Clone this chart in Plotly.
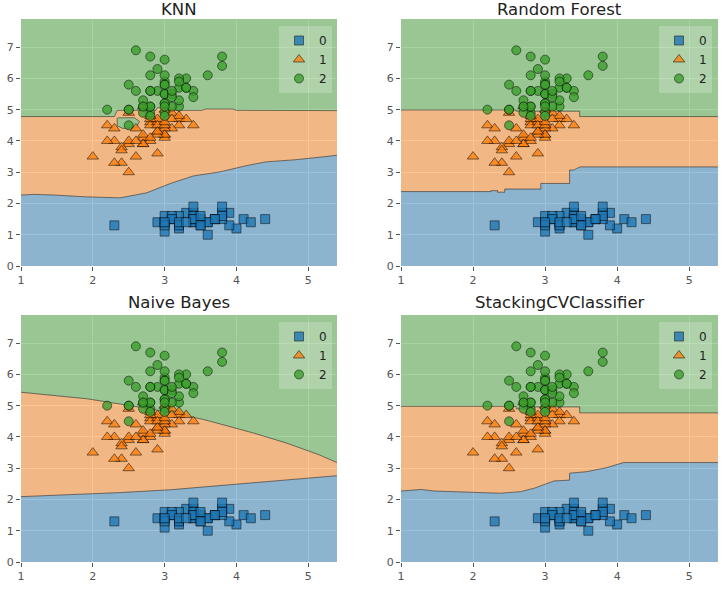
import plotly.graph_objects as go
from plotly.subplots import make_subplots

# ---------------- data: iris (sepal width, petal length) ----------------
C0_X = [3.5,3.0,3.2,3.1,3.6,3.9,3.4,3.4,2.9,3.1,3.7,3.4,3.0,3.0,4.0,4.4,3.9,3.5,3.8,3.8,3.4,3.7,3.6,3.3,3.4,
        3.0,3.4,3.5,3.4,3.2,3.1,3.4,4.1,4.2,3.1,3.2,3.5,3.6,3.0,3.4,3.5,2.3,3.2,3.5,3.8,3.0,3.8,3.2,3.7,3.3]
C0_Y = [1.4,1.4,1.3,1.5,1.4,1.7,1.4,1.5,1.4,1.5,1.5,1.6,1.4,1.1,1.2,1.5,1.3,1.4,1.7,1.5,1.7,1.5,1.0,1.7,1.9,
        1.6,1.6,1.5,1.4,1.6,1.6,1.5,1.5,1.4,1.5,1.2,1.3,1.4,1.3,1.5,1.3,1.3,1.3,1.6,1.9,1.4,1.6,1.4,1.5,1.4]
C1_X = [3.2,3.2,3.1,2.3,2.8,2.8,3.3,2.4,2.9,2.7,2.0,3.0,2.2,2.9,2.9,3.1,3.0,2.7,2.2,2.5,3.2,2.8,2.5,2.8,2.9,
        3.0,2.8,3.0,2.9,2.6,2.4,2.4,2.7,2.7,3.0,3.4,3.1,2.3,3.0,2.5,2.6,3.0,2.6,2.3,2.7,3.0,2.9,2.9,2.5,2.8]
C1_Y = [4.7,4.5,4.9,4.0,4.6,4.5,4.7,3.3,4.6,3.9,3.5,4.2,4.0,4.7,3.6,4.4,4.5,4.1,4.5,3.9,4.8,4.0,4.9,4.7,4.3,
        4.4,4.8,5.0,4.5,3.5,3.8,3.7,3.9,5.1,4.5,4.5,4.7,4.4,4.1,4.0,4.4,4.6,4.0,3.3,4.2,4.2,4.2,4.3,3.0,4.1]
C2_X = [3.3,2.7,3.0,2.9,3.0,3.0,2.5,2.9,2.5,3.6,3.2,2.7,3.0,2.5,2.8,3.2,3.0,3.8,2.6,2.2,3.2,2.8,2.8,2.7,3.3,
        3.2,2.8,3.0,2.8,3.0,2.8,3.8,2.8,2.8,2.6,3.0,3.4,3.1,3.0,3.1,3.1,3.1,2.7,3.2,3.3,3.0,2.5,3.0,3.4,3.0]
C2_Y = [6.0,5.1,5.9,5.6,5.8,6.6,4.5,6.3,5.8,6.1,5.1,5.3,5.5,5.0,5.1,5.3,5.5,6.7,6.9,5.0,5.7,4.9,6.7,4.9,5.7,
        6.0,4.8,4.9,5.6,5.8,6.1,6.4,5.6,5.1,5.6,6.1,5.6,5.5,4.8,5.4,5.6,5.1,5.1,5.9,5.7,5.2,5.0,5.2,5.4,5.1]
CLASS_LABELS = ["0", "1", "2"]
TITLES = ["KNN", "Random Forest", "Naive Bayes", "StackingCVClassifier"]
X_RANGE = [1.0, 5.4]
Y_RANGE = [0.0, 7.9]
X_TICKS = [1, 2, 3, 4, 5]
Y_TICKS = [0, 1, 2, 3, 4, 5, 6, 7]

# ---------------- decision boundaries ----------------
KNN_LOW_X = [1.0, 1.18, 1.46, 1.92, 2.38, 2.75, 3.08, 3.40, 3.77, 4.14, 4.41, 4.83, 5.4]
KNN_LOW_Y = [2.27, 2.29, 2.27, 2.21, 2.18, 2.34, 2.64, 2.88, 3.01, 3.21, 3.33, 3.40, 3.54]
KNN_UP_X = [1.0, 2.30, 2.34, 2.88, 2.90, 3.04, 3.06, 3.52, 3.57, 3.95, 4.00, 5.4]
KNN_UP_Y = [4.78, 4.78, 4.98, 4.98, 5.06, 5.06, 4.98, 4.98, 5.02, 5.02, 4.98, 4.97]
KNN_ISLAND_X = [2.34, 2.36, 2.58, 2.65, 2.60, 2.42, 2.34, 2.34]
KNN_ISLAND_Y = [4.72, 4.74, 4.74, 4.62, 4.42, 4.40, 4.48, 4.72]

RF_LOW_X = [1.0, 2.25, 2.25, 2.34, 2.34, 2.44, 2.44, 2.94, 2.94, 3.34, 3.34, 3.40, 3.44, 3.49, 5.4]
RF_LOW_Y = [2.38, 2.38, 2.41, 2.41, 2.36, 2.36, 2.46, 2.46, 2.64, 2.64, 3.07, 3.07, 3.12, 3.17, 3.17]
RF_UP_X = [1.0, 2.60, 2.60, 3.48, 3.48, 5.4]
RF_UP_Y = [4.99, 4.99, 4.95, 4.95, 4.78, 4.78]

NB_LOW_X = [1.0, 1.69, 2.38, 3.08, 3.77, 4.46, 5.4]
NB_LOW_Y = [2.09, 2.15, 2.22, 2.31, 2.45, 2.59, 2.76]
NB_UP_X = [1.0, 1.92, 2.85, 3.54, 4.23, 4.69, 5.15, 5.4]
NB_UP_Y = [5.43, 5.22, 4.88, 4.56, 4.13, 3.81, 3.43, 3.18]

ST_LOW_X = [1.0, 1.28, 1.46, 1.92, 2.38, 2.66, 2.85, 3.12, 3.34, 3.34, 3.58, 3.86, 4.09, 5.4]
ST_LOW_Y = [2.27, 2.32, 2.27, 2.23, 2.20, 2.25, 2.36, 2.59, 2.62, 2.84, 2.89, 3.02, 3.18, 3.18]
ST_UP_X = [1.0, 2.60, 2.60, 2.75, 2.75, 3.48, 3.48, 5.4]
ST_UP_Y = [4.98, 4.98, 4.90, 4.90, 4.96, 4.96, 4.77, 4.77]

PANELS = [
    (KNN_LOW_X, KNN_LOW_Y, KNN_UP_X, KNN_UP_Y),
    (RF_LOW_X, RF_LOW_Y, RF_UP_X, RF_UP_Y),
    (NB_LOW_X, NB_LOW_Y, NB_UP_X, NB_UP_Y),
    (ST_LOW_X, ST_LOW_Y, ST_UP_X, ST_UP_Y),
]

# ---------------- styling ----------------
W, H = 726, 601
FILL = ["rgba(31,119,180,0.45)", "rgba(255,127,14,0.45)", "rgba(60,160,44,0.45)"]
MCOL = ["#1f77b4", "#ff7f0e", "#3ca02c"]
SYMB = ["square", "triangle-up", "circle"]
MSIZE = [9, 10, 9]
EDGE = "rgba(30,30,30,0.55)"
FONT = "DejaVu Sans"

# plot-area pixel boxes (left, right, top, bottom)
BOXES = [(21, 337, 19, 266), (401, 718, 19, 266), (21, 337, 315, 562), (401, 718, 315, 562)]
LEGEND_POS = [(332, 26), (712, 26), (332, 322), (712, 322)]
TITLE_BASE = [17, 17, 309.5, 309.5]

fig = make_subplots(rows=2, cols=2)
rc = [(1, 1), (1, 2), (2, 1), (2, 2)]
classes = [(C0_X, C0_Y), (C1_X, C1_Y), (C2_X, C2_Y)]

for i, (lx, ly, ux, uy) in enumerate(PANELS):
    r, c = rc[i]
    leg = "legend" if i == 0 else f"legend{i+1}"
    fig.add_trace(go.Scatter(x=lx, y=ly, mode="lines", fill="tozeroy", fillcolor=FILL[0],
                             line=dict(color=EDGE, width=1), showlegend=False, hoverinfo="skip"), row=r, col=c)
    fig.add_trace(go.Scatter(x=ux, y=uy, mode="lines", fill="tonexty", fillcolor=FILL[1],
                             line=dict(color=EDGE, width=1), showlegend=False, hoverinfo="skip"), row=r, col=c)
    fig.add_trace(go.Scatter(x=X_RANGE, y=[Y_RANGE[1], Y_RANGE[1]], mode="lines", fill="tonexty",
                             fillcolor=FILL[2], line=dict(width=0), showlegend=False, hoverinfo="skip"),
                  row=r, col=c)
    if i == 0:
        fig.add_trace(go.Scatter(x=KNN_ISLAND_X, y=KNN_ISLAND_Y, mode="lines", fill="toself",
                                 fillcolor="rgb(153,198,146)", line=dict(color=EDGE, width=1),
                                 showlegend=False, hoverinfo="skip"), row=r, col=c)
    for k, (cx, cy) in enumerate(classes):
        fig.add_trace(go.Scatter(x=cx, y=cy, mode="markers", name=CLASS_LABELS[k], legend=leg,
                                 marker=dict(symbol=SYMB[k], size=MSIZE[k], color=MCOL[k], opacity=0.8,
                                             line=dict(color="rgba(0,0,0,0.8)", width=0.8))),
                      row=r, col=c)

layout_upd = {}
for i, (l, rr, t, b) in enumerate(BOXES):
    sfx = "" if i == 0 else str(i + 1)
    common = dict(showgrid=True, gridcolor="white", gridwidth=1, zeroline=False, automargin=False,
                  showline=False, ticks="outside", ticklen=4, tickcolor="#555555",
                  tickfont=dict(family=FONT, size=11, color="#555555"))
    layout_upd[f"xaxis{sfx}"] = dict(domain=[l / W, rr / W], range=X_RANGE, tickvals=X_TICKS, **common)
    layout_upd[f"yaxis{sfx}"] = dict(domain=[1 - b / H, 1 - t / H], range=Y_RANGE, tickvals=Y_TICKS, **common)
    lx_, ly_ = LEGEND_POS[i]
    leg = "legend" if i == 0 else f"legend{i+1}"
    layout_upd[leg] = dict(x=lx_ / W, y=1 - ly_ / H, xanchor="right", yanchor="top",
                           bgcolor="rgba(255,255,255,0.22)", borderwidth=0, traceorder="normal",
                           font=dict(family=FONT, size=12, color="#222222"), itemwidth=30,
                           tracegroupgap=0)

fig.update_layout(**layout_upd)

for i, (l, rr, t, b) in enumerate(BOXES):
    fig.add_annotation(text=TITLES[i], x=(l + rr) / 2 / W, y=1 - (TITLE_BASE[i] + 4) / H,
                       xref="paper", yref="paper",
                       xanchor="center", yanchor="bottom", showarrow=False,
                       font=dict(family=FONT, size=16.5, color="#222222"))

fig.update_layout(width=W, height=H, margin=dict(l=0, r=0, t=0, b=0),
                  paper_bgcolor="white", plot_bgcolor="#E5E5E5", font=dict(family=FONT))
fig.write_html("out.html", config={"displayModeBar": False},
               post_script="document.body.style.margin='0';document.body.style.overflow='hidden';")
